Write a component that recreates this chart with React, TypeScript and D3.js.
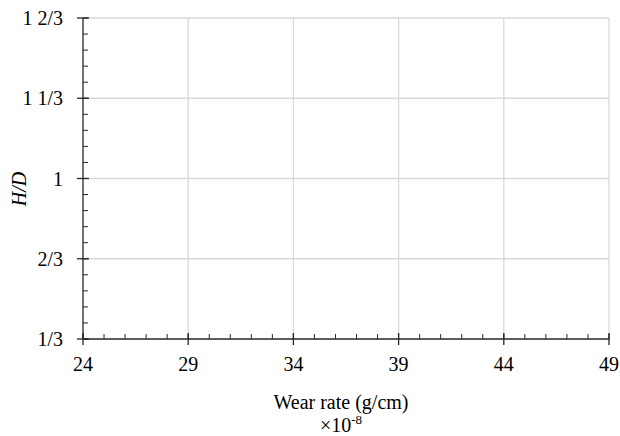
import * as React from "react"
import * as d3 from "d3"

// axis definitions (the chart carries no data series)
const xTicks = [24, 29, 34, 39, 44, 49]
const yTicks = [1 / 3, 2 / 3, 1, 4 / 3, 5 / 3]
const yTickLabels = ["1/3", "2/3", "1", "1 1/3", "1 2/3"]
const xLabel = "Wear rate (g/cm)"
const yLabel = "H/D"

function render(svgRef: React.RefObject<SVGSVGElement>) {
  const width = 620
  const height = 436
  const margin = { top: 18, right: 11, bottom: 97, left: 83 }

  const svg = d3.select(svgRef.current).attr("width", width).attr("height", height)
  svg.selectAll("*").remove()
  const font = "Liberation Serif"
  const fs = "20px"

  const x = d3
    .scaleLinear()
    .domain([xTicks[0], xTicks[xTicks.length - 1]])
    .range([margin.left, width - margin.right])
  const y = d3
    .scaleLinear()
    .domain([yTicks[0], yTicks[yTicks.length - 1]])
    .range([height - margin.bottom, margin.top])

  const g = svg.append("g")

  // gridlines
  g.selectAll(".vgrid")
    .data(xTicks.slice(1))
    .join("line")
    .attr("x1", (d) => x(d))
    .attr("x2", (d) => x(d))
    .attr("y1", y.range()[0])
    .attr("y2", y.range()[1])
    .attr("stroke", "#d9d9d9")
    .attr("stroke-width", 1.3)
  g.selectAll(".hgrid")
    .data(yTicks.slice(1))
    .join("line")
    .attr("x1", x.range()[0])
    .attr("x2", x.range()[1])
    .attr("y1", (d) => y(d))
    .attr("y2", (d) => y(d))
    .attr("stroke", "#d9d9d9")
    .attr("stroke-width", 1.3)

  const axisColor = "#262626"

  // minor ticks
  const xMinor = d3.range(xTicks[0], xTicks[xTicks.length - 1] + 0.001, 1)
  g.selectAll(".xminor")
    .data(xMinor)
    .join("line")
    .attr("x1", (d) => x(d))
    .attr("x2", (d) => x(d))
    .attr("y1", y.range()[0])
    .attr("y2", y.range()[0] - 5)
    .attr("stroke", axisColor)
    .attr("stroke-width", 1)
  const yStep = (yTicks[1] - yTicks[0]) / 5
  const yMinor = d3.range(0, 21).map((i) => yTicks[0] + i * yStep)
  g.selectAll(".yminor")
    .data(yMinor)
    .join("line")
    .attr("x1", x.range()[0])
    .attr("x2", x.range()[0] + 5)
    .attr("y1", (d) => y(d))
    .attr("y2", (d) => y(d))
    .attr("stroke", axisColor)
    .attr("stroke-width", 1)

  // major ticks (crossing)
  g.selectAll(".xmajor")
    .data(xTicks)
    .join("line")
    .attr("x1", (d) => x(d))
    .attr("x2", (d) => x(d))
    .attr("y1", y.range()[0] - 6)
    .attr("y2", y.range()[0] + 6)
    .attr("stroke", axisColor)
    .attr("stroke-width", 1.3)
  g.selectAll(".ymajor")
    .data(yTicks)
    .join("line")
    .attr("x1", x.range()[0] - 6)
    .attr("x2", x.range()[0] + 6)
    .attr("y1", (d) => y(d))
    .attr("y2", (d) => y(d))
    .attr("stroke", axisColor)
    .attr("stroke-width", 1.3)

  // axis lines
  g.append("line")
    .attr("x1", x.range()[0])
    .attr("x2", x.range()[1])
    .attr("y1", y.range()[0])
    .attr("y2", y.range()[0])
    .attr("stroke", axisColor)
    .attr("stroke-width", 1.3)
  g.append("line")
    .attr("x1", x.range()[0])
    .attr("x2", x.range()[0])
    .attr("y1", y.range()[0])
    .attr("y2", y.range()[1])
    .attr("stroke", axisColor)
    .attr("stroke-width", 1.3)

  // tick labels
  g.selectAll(".xlab")
    .data(xTicks)
    .join("text")
    .attr("x", (d) => x(d))
    .attr("y", y.range()[0] + 32)
    .attr("text-anchor", "middle")
    .style("font-family", font)
    .style("font-size", fs)
    .attr("fill", "#000")
    .text((d) => d)
  g.selectAll(".ylab")
    .data(yTicks)
    .join("text")
    .attr("x", x.range()[0] - 20)
    .attr("y", (d) => y(d) + 7)
    .attr("text-anchor", "end")
    .style("font-family", font)
    .style("font-size", fs)
    .attr("fill", "#000")
    .text((d, i) => yTickLabels[i])

  // axis titles
  const cx = 341
  g.append("text")
    .attr("x", cx)
    .attr("y", 409)
    .attr("text-anchor", "middle")
    .style("font-family", font)
    .style("font-size", fs)
    .attr("fill", "#000")
    .text(xLabel)
  const mult = g
    .append("text")
    .attr("x", cx)
    .attr("y", 432)
    .attr("text-anchor", "middle")
    .style("font-family", font)
    .style("font-size", fs)
    .attr("fill", "#000")
  mult.append("tspan").text("×10")
  mult.append("tspan").style("font-size", "13px").attr("dy", -8).text("-8")

  g.append("text")
    .attr("transform", `translate(26,189) rotate(-90)`)
    .attr("text-anchor", "middle")
    .style("font-family", font)
    .style("font-style", "italic")
    .style("font-size", fs)
    .attr("fill", "#000")
    .text(yLabel)
}

export default function App(): React.JSX.Element {
  const svg = React.useRef<SVGSVGElement>(null)

  React.useEffect(() => {
    render(svg)
  }, [])

  return (
    <div style={{ position: "absolute", left: 0, top: 0, width: 620, height: 436, background: "#fff" }}>
      <svg ref={svg} style={{ display: "block" }}></svg>
    </div>
  )
}
